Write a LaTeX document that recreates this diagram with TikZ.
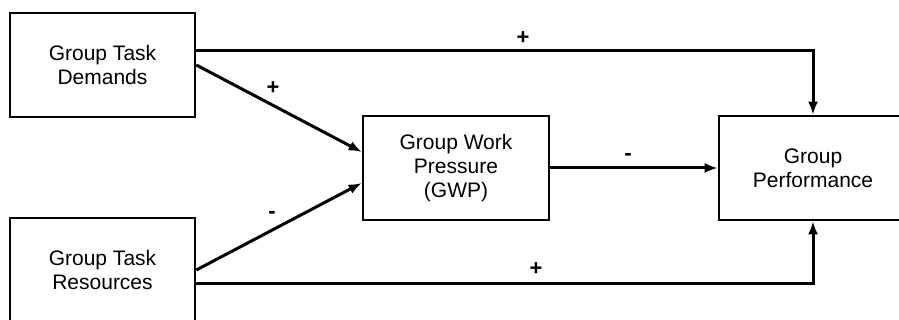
\documentclass[tikz,border=0pt]{standalone}
\usepackage{fontspec}
\setmainfont{Liberation Sans}
\usetikzlibrary{arrows.meta}
\begin{document}
\begin{tikzpicture}[x=1pt,y=-1pt,
  box/.style={draw,line width=2.6pt,minimum height=104pt,align=center,inner sep=0pt,
    font=\fontsize{21}{24}\selectfont},
  arr/.style={line width=3pt,-{Latex[length=13pt,width=10pt]}},
  sign/.style={font=\bfseries\fontsize{22}{22}\selectfont,inner sep=0pt}]
\useasboundingbox (0,0) rectangle (899,320);
\clip (0,0) rectangle (899,320);
\node[box,minimum width=185pt] (dem) at (102.5,65) {Group Task\\Demands};
\node[box,minimum width=185pt] (res) at (102.5,270) {Group Task\\Resources};
\node[box,minimum width=186pt] (gwp) at (456,168) {Group Work\\Pressure\\(GWP)};
\node[box,minimum width=188pt] (perf) at (813,168) {Group\\Performance};
\draw[arr] ([yshift=14pt]dem.east) -| (perf.north);
\draw[arr] ([yshift=-13pt]res.east) -| (perf.south);
\draw[arr] (dem.east) -- ([yshift=16pt]gwp.west);
\draw[arr] (res.east) -- ([yshift=-15pt]gwp.west);
\draw[arr] (gwp.east) -- (perf.west);
\node[sign] (s1) at (523,38) {+};
\node[sign] (s2) at (536,269) {+};
\node[sign] (s3) at (273,88) {+};
\node[sign] (s4) at (272,215) {-};
\node[sign] (s5) at (628,157) {-};
\end{tikzpicture}
\end{document}
